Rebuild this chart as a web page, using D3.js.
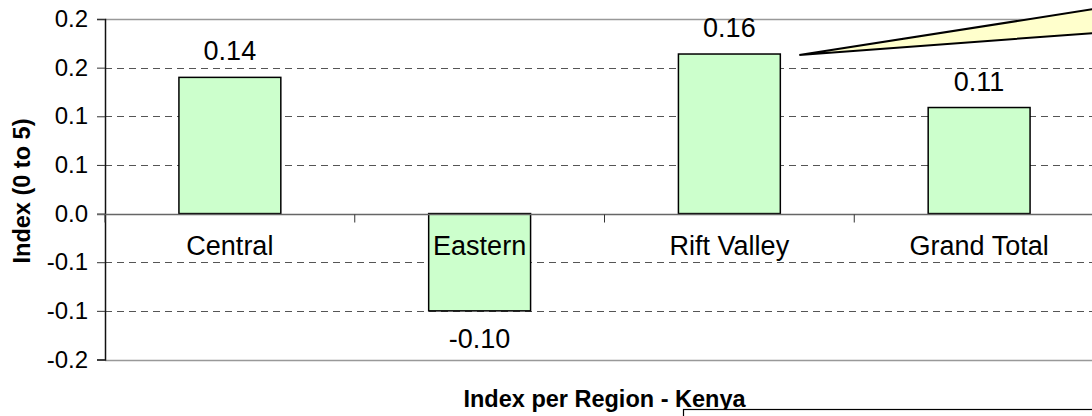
<!DOCTYPE html>
<html lang="en">
    <head>
        <meta charset="utf-8">
        <title>Index per Region - Kenya</title>
        <script type="text/javascript" src="https://cdn.jsdelivr.net/npm/d3@7"></script>
        <style>
            body { margin: 0; background: white; }
            text { font-family: "Liberation Sans", Arial, sans-serif; fill: black; }
        </style>
    </head>
    <body>
        <script type="text/javascript">
        var w = 1092;
        var h = 416;

        var regions = ["Central", "Eastern", "Rift Valley", "Grand Total"];
        var indexValues = [0.14, -0.10, 0.164, 0.109];
        var yTicks = [-0.15, -0.10, -0.05, 0, 0.05, 0.10, 0.15, 0.20];
        var yTickLabels = ["-0.2", "-0.1", "-0.1", "0.0", "0.1", "0.1", "0.2", "0.2"];

        // plot area (the right edge runs past the window)
        var plotLeft = 105, plotRight = 1104, plotTop = 19, plotBottom = 359.5;

        var svg = d3.select("body")
                    .append("svg")
                    .attr("width", w)
                    .attr("height", h);

        var x = d3.scaleBand()
                  .domain(regions)
                  .range([plotLeft, plotRight])
                  .paddingInner(0.592)
                  .paddingOuter(0.296);

        var y = d3.scaleLinear()
                  .domain([-0.15, 0.2])
                  .range([plotBottom, plotTop]);

        var fmt = function(d) { return d3.format(".2f")(d).replace("\u2212", "-"); };

        // dashed grid lines
        svg.selectAll("line.grid")
            .data(yTicks.filter(function(d) { return d != 0 && d != 0.2 && d != -0.15; }))
            .enter()
            .append("line")
            .attr("class", "grid")
            .attr("x1", plotLeft).attr("x2", w)
            .attr("y1", function(d) { return Math.round(y(d)) + 0.5; })
            .attr("y2", function(d) { return Math.round(y(d)) + 0.5; })
            .attr("stroke", "#555")
            .attr("stroke-dasharray", "7,5");

        // top and bottom border of plot area
        [0.2, -0.15].forEach(function(v) {
            svg.append("line")
                .attr("x1", plotLeft).attr("x2", w)
                .attr("y1", Math.round(y(v)) + 0.5).attr("y2", Math.round(y(v)) + 0.5)
                .attr("stroke", "#999")
                .attr("stroke-width", 1.5);
        });

        // y axis
        var yAxis = d3.axisLeft(y)
                      .tickValues(yTicks)
                      .tickSize(8)
                      .tickPadding(9)
                      .tickFormat(function(d, i) { return yTickLabels[i]; });

        var gy = svg.append("g")
            .attr("transform", "translate(" + plotLeft + ",0)")
            .call(yAxis);
        gy.select(".domain").attr("stroke", "#111").attr("stroke-width", 1.5);
        gy.selectAll(".tick line").attr("stroke", "#333");
        gy.selectAll(".tick text")
            .style("font-size", "24px")
            .attr("fill", "black");

        // bars
        svg.selectAll("rect.bar")
            .data(indexValues)
            .enter()
            .append("rect")
            .attr("class", "bar")
            .attr("x", function(d, i) { return x(regions[i]); })
            .attr("width", x.bandwidth())
            .attr("y", function(d) { return y(Math.max(0, d)); })
            .attr("height", function(d) { return Math.abs(y(d) - y(0)); })
            .attr("fill", "#CCFFCC")
            .attr("stroke", "black")
            .attr("stroke-width", 1.5);

        // zero line with category ticks
        var zy = Math.round(y(0)) + 0.5;
        svg.append("line")
            .attr("x1", plotLeft - 8).attr("x2", w)
            .attr("y1", zy).attr("y2", zy)
            .attr("stroke", "#666")
            .attr("stroke-width", 1.5);

        var step = x.step();
        svg.selectAll("line.cattick")
            .data(d3.range(regions.length + 1))
            .enter()
            .append("line")
            .attr("class", "cattick")
            .attr("x1", function(i) { return plotLeft + i * step; })
            .attr("x2", function(i) { return plotLeft + i * step; })
            .attr("y1", zy).attr("y2", zy + 8)
            .attr("stroke", "#333");

        // category labels
        svg.selectAll("text.cat")
            .data(regions)
            .enter()
            .append("text")
            .attr("class", "cat")
            .attr("x", function(d) { return x(d) + x.bandwidth() / 2; })
            .attr("y", zy + 40)
            .attr("text-anchor", "middle")
            .style("font-size", "27px")
            .text(function(d) { return d; });

        // value labels
        svg.selectAll("text.val")
            .data(indexValues)
            .enter()
            .append("text")
            .attr("class", "val")
            .attr("x", function(d, i) { return x(regions[i]) + x.bandwidth() / 2; })
            .attr("y", function(d) { return d >= 0 ? y(d) - 17 : y(d) + 37; })
            .attr("text-anchor", "middle")
            .style("font-size", "27px")
            .text(fmt);

        // axis titles
        svg.append("text")
            .attr("transform", "translate(30,191) rotate(-90)")
            .attr("text-anchor", "middle")
            .style("font-size", "23.5px")
            .style("font-weight", "bold")
            .text("Index (0 to 5)");

        svg.append("text")
            .attr("x", (plotLeft + plotRight) / 2)
            .attr("y", 407)
            .attr("text-anchor", "middle")
            .style("font-size", "23.5px")
            .style("font-weight", "bold")
            .text("Index per Region - Kenya");

        // callout wedge pointing at Rift Valley bar
        var tip = [x("Rift Valley") + x.bandwidth() + 19, y(indexValues[2]) + 1];
        svg.append("path")
            .attr("d", "M" + tip[0] + "," + tip[1] + "L1094,9L1094,33Z")
            .attr("fill", "#FFFFCC")
            .attr("stroke", "black")
            .attr("stroke-width", 2)
            .attr("stroke-linejoin", "miter");

        // text box at bottom right
        svg.append("rect")
            .attr("x", 683.5).attr("y", 409.5)
            .attr("width", 420).attr("height", 20)
            .attr("fill", "white")
            .attr("stroke", "black")
            .attr("stroke-width", 1.2);
        </script>
    </body>
</html>
